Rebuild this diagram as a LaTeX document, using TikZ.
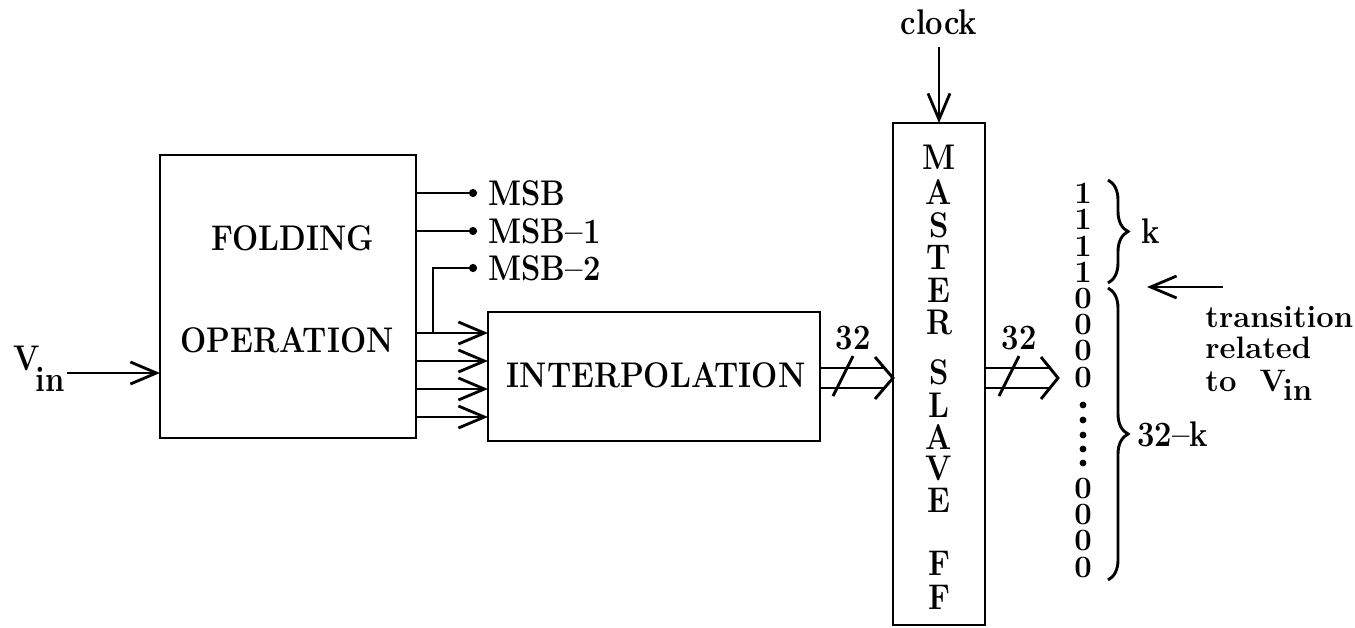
\documentclass[tikz,border=0pt]{standalone}
\usetikzlibrary{arrows.meta,decorations.pathreplacing}
\newcommand\vs[1]{\scalebox{1}[1.15]{#1}}
\tikzset{
  box/.style={draw, rectangle, inner sep=0pt, outer sep=0pt},
  lab/.style={inner sep=0pt, font=\fontsize{15.5}{18}\selectfont\bfseries},
  col/.style={inner sep=0pt, align=center, font=\fontsize{15.5}{13.1}\selectfont\bfseries},
  arr/.style={-{Straight Barb[length=13pt,width=11pt,line width=1.4pt]}},
  dotend/.style={-{Circle[length=4pt]}, shorten >=5pt},
  brc/.style={decorate, decoration={brace, amplitude=10pt}},
}
\begin{document}
\begin{tikzpicture}[x=0.5pt, y=-0.5pt, line width=1.45pt]
\useasboundingbox (0,0) rectangle (1355,627);
% boxes
\node[box, minimum width=128pt, minimum height=141.5pt] (fold) at (288,296.5) {};
\node[box, minimum width=166pt, minimum height=64.5pt] (interp) at (654,376.5) {};
\node[box, minimum width=46pt, minimum height=251pt] (ms) at (939,374) {};
% box texts
\node[lab] (tfold) at (293,238) {\vs{FOLDING}};
\node[lab] (top) at (287,340) {\vs{OPERATION}};
\node[lab] (tint) at (656,375) {\vs{INTERPOLATION}};
\foreach \l/\yy [count=\i] in {M/157,A/192,S/225,T/257,E/290,R/322,S/372,L/405,A/437,V/468,E/500,F/563,F/597}
  \node[lab] (ms\i) at (939,\yy) {\vs{\l}};
% Vin
\node[lab, anchor=base west] (vin) at (12,370) {\vs{V}\kern-2pt\raisebox{-10.5pt}{\vs{in}}};
\draw[arr] (67,373) -- (fold.west |- 0,373);
% MSB outputs
\node[lab, anchor=west] (msb0) at (487,193) {\vs{MSB}};
\node[lab, anchor=west] (msb1) at (487,231) {\vs{MSB--1}};
\node[lab, anchor=west] (msb2) at (487,268) {\vs{MSB--2}};
\draw[dotend] (fold.east |- 0,193) -- (msb0.west);
\draw[dotend] (fold.east |- 0,231) -- (msb1.west);
\draw[dotend] (433,333) -- (433,268) -- (msb2.west);
% four inputs of interpolation
\foreach \yy in {333,361,389,417}
  \draw[arr] (fold.east |- 0,\yy) -- (interp.west |- 0,\yy);
% bus 1
\coordinate (t1) at (ms.west |- 0,378);
\draw (interp.east |- 0,368) -- (884,368);
\draw (interp.east |- 0,388) -- (884,388);
\draw (875,357) -- (t1) -- (875,399);
\draw (833,396) -- (853,356);
\node[lab] (n32a) at (853,338) {\vs{32}};
% clock
\node[lab] (clk) at (939,22) {\vs{clock}};
\draw[arr] (clk.south |- 0,47) -- (ms.north);
% bus 2
\coordinate (t2) at (1058,378);
\draw (ms.east |- 0,368) -- (1050,368);
\draw (ms.east |- 0,388) -- (1050,388);
\draw (1041,357) -- (t2) -- (1041,399);
\draw (999,396) -- (1019,356);
\node[lab] (n32b) at (1019,338) {\vs{32}};
% digit column
\node[col, anchor=base] (dtop) at (1083,387) {1\\1\\1\\1\\0\\0\\0\\0};
\node[col, anchor=base] (dbot) at (1083,577) {0\\0\\0\\0};
\foreach \yy in {405,420,435,449,463}
  \fill (1083,\yy) circle (1.7pt);
% braces
\draw[brc] (1108,180) -- (1108,283) node[lab, midway, anchor=west, xshift=16pt] (kl) {\vs{k}};
\draw[brc] (1108,288) -- (1108,580) node[lab, midway, anchor=west, xshift=14pt] (kk) {\vs{32--k}};
% transition
\coordinate (tr0) at (1223,287);
\draw[arr] (tr0) -- (1147,287);
\node[lab, anchor=base west] (tr1) at (1204,327) {transition};
\node[lab, anchor=base west] (tr2) at (1204,358) {related};
\node[lab, anchor=base west] (tr3) at (1204,391) {to\ \ V\kern-1.5pt\raisebox{-4.5pt}{in}};
\end{tikzpicture}
\end{document}
